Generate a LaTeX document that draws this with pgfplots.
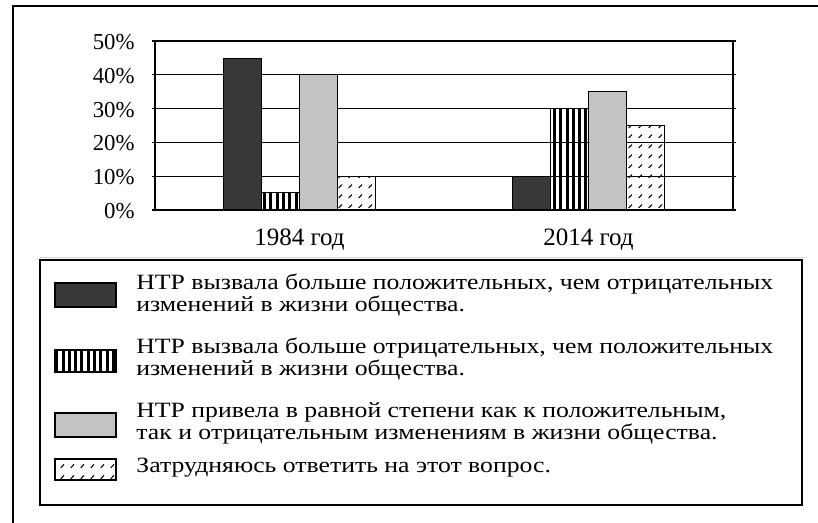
\documentclass[border=0pt]{standalone}
\usepackage{fontspec}
\setmainfont{Liberation Serif}
\newfontfamily\legfont[FakeStretch=1.18]{Liberation Serif}
\usepackage{pgfplots}
\pgfplotsset{compat=1.18}
\usetikzlibrary{patterns,patterns.meta}
\definecolor{darkbar}{HTML}{383838}
\definecolor{graybar}{HTML}{C3C3C3}
\pgfdeclarepattern{name=slashdash, type=uncolored,
  bottom left={\pgfpoint{0pt}{0pt}}, top right={\pgfpoint{4.8pt}{5.2pt}},
  tile size={\pgfpoint{4.8pt}{5.2pt}},
  code={\pgfsetlinewidth{0.55pt}\pgfpathmoveto{\pgfpoint{1.4pt}{1.6pt}}\pgfpathlineto{\pgfpoint{3.1pt}{3.4pt}}\pgfusepath{stroke}}}
\tikzset{
  sA/.style={draw=black, line width=0.55pt, fill=darkbar},
  sB/.style={draw=black, line width=0.55pt, pattern={Lines[angle=90,distance=3.15pt,line width=1.5pt]}, pattern color=black},
  sC/.style={draw=black, line width=0.55pt, fill=graybar},
  sD/.style={draw=black, line width=0.55pt, pattern=slashdash, pattern color=black}
}
\begin{document}
\begin{tikzpicture}
\path[use as bounding box] (0,0) rectangle (409pt,-261.5pt);
\begin{axis}[
  at={(77.5pt,-105pt)}, anchor=south west,
  scale only axis, width=289pt, height=84.5pt,
  xmin=0.5, xmax=2.5, ymin=0, ymax=50,
  xtick={1,2}, xticklabels={1984 год, 2014 год},
  ytick={0,10,20,30,40,50},
  yticklabel={\pgfmathprintnumber{\tick}\%},
  /pgf/number format/assume math mode=true,
  ymajorgrids, grid style={black, line width=0.55pt},
  axis line style={black, line width=0.6pt},
  x tick style={draw=none},
  y tick style={black, line width=0.55pt},
  tick align=outside, major tick length=1.5pt,
  yticklabel style={font=\fontsize{11.4pt}{13pt}\selectfont, anchor=east, inner sep=0pt, xshift=-8.5pt, yshift=-0.5pt},
  xticklabel style={font=\fontsize{12.5pt}{14pt}\selectfont, anchor=base, inner sep=0pt, yshift=-16.5pt},
  ybar=0pt, bar width=19pt,
]
\addplot[sA] coordinates {(1,44.7) (2,10)};
\addplot[sB] coordinates {(1,5.3) (2,30)};
\addplot[sC] coordinates {(1,40) (2,35)};
\addplot[sD] coordinates {(1,10) (2,25)};
\end{axis}
\begin{scope}[x=0.5pt, y=-0.5pt]
  \draw[line width=0.65pt] (13,523) -- (13,6) -- (818,6);
  \draw[line width=0.5pt, black!18] (40,258) -- (805,258);
  \draw[line width=0.65pt] (40,260) rectangle (802,505);
  \draw[sA] (55,283) rectangle (116,307);
  \draw[sB] (55,350) rectangle (116,372);
  \draw[sC] (55,413) rectangle (116,437);
  \draw[sD] (55,459) rectangle (116,480);
  \begin{scope}[every node/.style={anchor=base west, inner sep=0pt, font=\legfont\fontsize{10.9pt}{12pt}\selectfont}]
    \node at (136,290) {НТР вызвала больше положительных, чем отрицательных};
    \node at (136,312) {изменений в жизни общества.};
    \node at (136,353) {НТР вызвала больше отрицательных, чем положительных};
    \node at (136,375) {изменений в жизни общества.};
    \node at (136,417) {НТР привела в равной степени как к положительным,};
    \node at (136,439) {так и отрицательным изменениям в жизни общества.};
    \node at (136,472) {Затрудняюсь ответить на этот вопрос.};
  \end{scope}
\end{scope}
\end{tikzpicture}
\end{document}
